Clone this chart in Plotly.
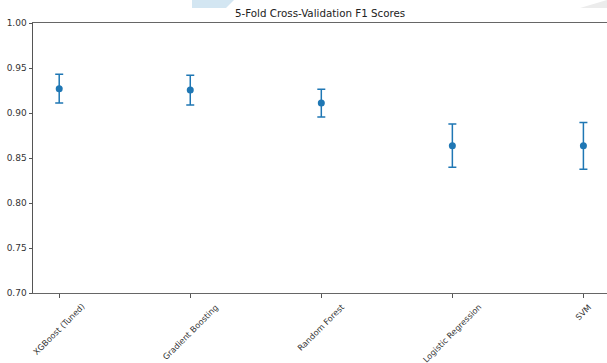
import plotly.graph_objects as go

models = ["XGBoost (Tuned)", "Gradient Boosting", "Random Forest", "Logistic Regression", "SVM"]
mean_f1 = [0.927, 0.9255, 0.911, 0.8637, 0.8635]
std_f1 = [0.016, 0.0165, 0.0155, 0.024, 0.026]
y_ticks = [0.70, 0.75, 0.80, 0.85, 0.90, 0.95, 1.00]
y_tick_labels = ["0.70", "0.75", "0.80", "0.85", "0.90", "0.95", "1.00"]

W, H = 607, 363
L, R, T, B = 33, 0, 23, 70
pw, ph = W - L - R, H - T - B

def px(x):
    return (x - L) / pw

def py(y):
    return (H - B - y) / ph

fig = go.Figure()
fig.add_trace(go.Scatter(
    x=models, y=mean_f1, mode="markers",
    marker=dict(color="#1f77b4", size=7),
    error_y=dict(type="data", array=std_f1, visible=True, color="#1f77b4",
                 thickness=1.5, width=4),
    showlegend=False, cliponaxis=False,
))

annotations = []
for m in models:
    annotations.append(dict(
        x=m, xref="x", y=0, yref="paper", yshift=-6,
        text=m, showarrow=False, textangle=-45,
        xanchor="center", yanchor="top",
        font=dict(family="DejaVu Sans", size=8.2, color="#333333"),
    ))
annotations.append(dict(
    x=0.5, xref="paper", y=1, yref="paper", yshift=2,
    text="5-Fold Cross-Validation F1 Scores", showarrow=False,
    xanchor="center", yanchor="bottom",
    font=dict(family="DejaVu Sans", size=10.3, color="#222222"),
))

shapes = [
    dict(type="path", xref="paper", yref="paper", layer="below",
         path=f"M {px(192)},{py(0)} L {px(234)},{py(0)} L {px(226)},{py(8)} L {px(192)},{py(8)} Z",
         fillcolor="#d3e6f2", line=dict(width=0)),
    dict(type="path", xref="paper", yref="paper", layer="below",
         path=f"M {px(580)},{py(8)} L {px(607)},{py(0)} L {px(607)},{py(8)} Z",
         fillcolor="#ececec", line=dict(width=0)),
]

fig.update_layout(
    width=W, height=H,
    margin=dict(l=L, r=R, t=T, b=B, pad=0),
    paper_bgcolor="white", plot_bgcolor="white",
    font=dict(family="DejaVu Sans", size=9, color="#333333"),
    annotations=annotations,
    shapes=shapes,
    xaxis=dict(
        type="category", categoryorder="array", categoryarray=models,
        range=[-0.2, 4.18], showgrid=False, zeroline=False,
        showline=True, linecolor="#666666", linewidth=1, mirror=True,
        ticks="outside", ticklen=3.5, tickcolor="#555555", tickwidth=1,
        showticklabels=False,
    ),
    yaxis=dict(
        range=[0.70, 1.00], tickvals=y_ticks, ticktext=y_tick_labels,
        showgrid=False, zeroline=False,
        showline=True, linecolor="#555555", linewidth=1,
        ticks="outside", ticklen=3.5, tickcolor="#555555", tickwidth=1,
        tickfont=dict(family="DejaVu Sans", size=9, color="#333333"),
    ),
)

fig.write_html(
    "out.html",
    config={"displayModeBar": False},
    post_script="document.body.style.margin='0px';document.body.style.overflow='hidden';",
)
